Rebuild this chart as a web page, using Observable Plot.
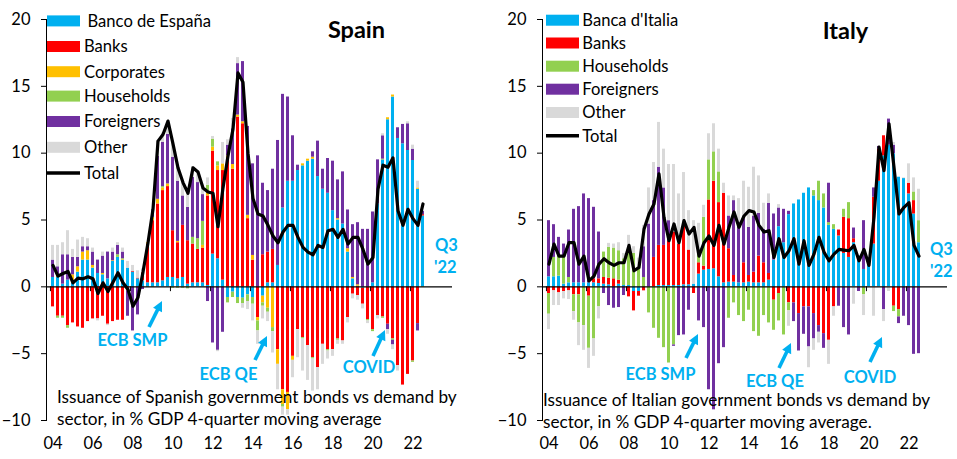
<!DOCTYPE html>
<html><head><meta charset="utf-8">
<script src="https://cdn.jsdelivr.net/npm/d3@7"></script>
<script src="https://cdn.jsdelivr.net/npm/@observablehq/plot@0.6"></script>
<style>
body{margin:0;background:#fff;}
#wrap{position:relative;width:957px;height:459px;overflow:hidden;font-family:Lato,sans-serif;}
.panel{position:absolute;top:0;}
#overlay{position:absolute;left:0;top:0;pointer-events:none;}
</style></head><body>
<div id="wrap">
<div id="spain" class="panel" style="left:0"></div>
<div id="italy" class="panel" style="left:496px"></div>
<svg id="overlay" width="957" height="459"></svg>
</div>
<script>
// ---------- categories & ticks ----------
const quarterKeys = [];
for (let y = 2004; y <= 2023; y++) for (let q = 1; q <= 4; q++) quarterKeys.push(y + "Q" + q);
const axisQuarters = quarterKeys.slice(0, 79);   // axis runs a little past the data
const dataQuarters = quarterKeys.slice(0, 75);   // 2004Q1 .. 2022Q3
const yearTickKeys = ["2004Q1","2006Q1","2008Q1","2010Q1","2012Q1","2014Q1","2016Q1","2018Q1","2020Q1","2022Q1"];
const yearTickLabels = ["04","06","08","10","12","14","16","18","20","22"];
const yTicks = [-10, -5, 0, 5, 10, 15, 20];

// ---------- Spain ----------
const spainSeries = ["Banco de España","Banks","Corporates","Households","Foreigners","Other"];
const spainColors = ["#00B0F0","#FF0000","#FFC000","#92D050","#7030A0","#D9D9D9"];
const spainBdE = [0.7,0.7,0.2,0.5,0.3,1.1,2.0,2.0,1.4,1.0, 0.9,0.6,1.9,2.2,2.0,1.4,1.1,0.6,0.45,0.3,
  0.3,0.3,0.45,0.7,0.7,0.6,0.7,0.2,0.3,0.3, 0.3,0.1,2.45,2.1,0.5,-0.8,-0.4,-0.8,-0.85,-0.6,
  -0.8,0,-0.7,0.3,0.3,1.6,5.9,7.9,7.9,8.7, 9.05,9.4,9.55,8.25,7.3,7.0,5.7,5.0,4.7,2.6,
  0.6,0.05,-0.1,0,0.3,6.2,9.5,12.5,14.2,11.1, 10.7,10.2,9.45,7.3,5.3];
const spainBanks = [-1.5,-2.2,-2.2,-2.9,-2.7,-3.0,-3.1,-2.6,-2.4,-2.4, -2.2,-2.8,-2.6,-2.5,-2.5,-0.3,0.05,0.05,0.6,2.9,
  4.65,5.9,6.75,6.8,3.5,2.7,3.9,3.25,2.9,2.5, 2.6,6.7,7.7,6.6,8.2,9.5,8.8,12.7,12.2,5.1,
  2.0,-2.3,2.4,2.3,2.5,-4.7,-7.7,-7.9,-5.2,-3.2, -3.8,-4.4,-5.3,-6.05,-4.3,-4.7,-4.7,-3.9,-4.05,-2.3,
  -0.55,-0.65,-1.2,-2.45,-3.2,-2.15,-2.25,-2.8,-3.9,-5.9, -7.35,-6.55,-5.55,-2.75,0.1];
const spainCorp = [0,0.2,0,0,0.6,0.4,0.6,0.7,0.2,0, 0.1,0,0.05,0,0.05,0,0,0,0,0.1,
  0.25,0.35,0.2,0.2,0,0.1,0,0,0,0, 0.2,0.2,0.3,0.35,0.5,0.3,0.35,0.15,0.15,0.25,
  0.35,-0.25,-0.5,-1.6,-3.05,-1.1,-1.1,-1.3,-0.3,0, 0.15,0.15,0.15,0,0,0,0,0.1,0,0.25,
  0.1,0.1,0,0,0,0,0.05,0.15,0.15,0, 0,0,0,0.1,0];
const spainHH = [0,-0.15,-0.15,-0.2,0,0,0,0,0,0, 0,0,0,0.2,0.05,0,0,0,0,-0.05,
  -0.05,0,0.1,0,-0.1,-0.1,-0.1,-0.15,0.5,0.8, 1.8,0.6,0.6,0.3,0,-0.4,-0.4,-0.45,-0.4,-0.5,
  -0.5,-0.75,-0.25,-0.3,-0.3,0,-0.2,0,0,0, -0.1,0,-0.1,0,0,-0.1,0,-0.1,0,0,
  0,0,0,-0.1,-0.15,0,-0.1,0,-0.1,0, 0,0,-0.1,0,-0.05];
const spainFor = [1.3,0.6,2.2,1.9,1.3,0.7,0.4,0.3,1.0,1.0, 1.3,2.0,0.65,0.7,0.5,-1.9,-3.3,-2.1,-0.2,0,
  0.5,3.2,3.3,3.7,5.5,4.5,2.2,2.5,4.5,4.2, 2.0,-1.1,-4.2,-4.75,-3.4,0.8,2.65,3.85,4.5,6.65,
  6.85,9.8,5.35,4.6,6.0,9.35,8.5,6.3,3.4,0.4, 0,0,0.4,2.65,1.5,2.6,3.7,2.9,3.9,2.9,
  3.95,4.65,4.3,4.3,5.3,3.3,1.75,-0.4,-0.35,0.8, 1.45,2.0,0.85,-0.55,0.25];
const spainOther = [1.1,1.6,0.9,1.8,0.6,1.3,0.7,0.6,0.3,-0.15, 0.3,-0.1,0.3,0.2,0.3,0.5,0.45,0.55,0.3,0,
  0.1,1.2,0.7,1.0,1.2,1.1,1.1,1.2,0.8,0.9, 0.6,0.55,0.2,-0.1,1.6,0.4,0.8,0.45,-0.35,-0.6,
  -1.25,-1.0,-0.95,-0.7,-1.6,-1.9,-0.6,-0.4,-1.3,-2.1, -2.4,-2.6,-2.4,-1.65,-1.5,-0.6,-0.5,-0.3,-0.25,-0.4,
  -0.35,-0.35,-0.35,-0.2,0,-0.25,0.15,-0.35,-0.35,-0.4, 0,0.15,0.3,0.5,0];
const spainTotal = [1.6,0.8,1.0,1.15,0.3,0.65,0.6,0.75,0.6,-0.5, 0.3,-0.35,0.35,1.05,0.3,-0.2,-1.45,-0.8,1.1,3.3,
  5.8,10.9,11.4,12.4,10.7,8.9,7.8,7.0,8.9,8.6, 7.4,7.1,7.0,4.5,7.4,9.8,11.8,16.0,15.3,10.0,
  6.6,5.45,5.3,4.6,3.8,3.3,4.1,4.6,4.6,3.7, 2.95,2.6,2.4,3.1,2.95,4.2,4.3,3.7,4.3,3.2,
  3.7,3.7,2.8,1.7,2.2,7.3,9.1,8.95,9.65,5.7, 4.6,5.8,5.1,4.6,6.2];

// ---------- Italy ----------
const italySeries = ["Banca d'Italia","Banks","Households","Foreigners","Other"];
const italyColors = ["#00B0F0","#FF0000","#92D050","#7030A0","#D9D9D9"];
const italyBdI = [0.75,0.75,0.8,0.2,0.3,0.3,0.3,0.3,0.3,0.3, 0.25,0.2,0.15,0,0.2,0.1,0.1,-0.35,-0.35,0,
  0,0,0.1,0.1,0.1,0.1,0.1,0.15,0.15,0.2, 0.95,1.25,1.3,1.35,0.75,0.3,0.35,0.35,0.3,0.3,
  0.35,0.3,0.3,0.3,0.5,2.0,4.5,3.3,5.4,6.2, 6.5,7.0,7.4,6.8,6.45,5.9,4.6,4.3,3.8,2.5,
  2.2,3.3,2.3,1.3,1.6,3.2,7.9,9.8,10.6,9.95, 8.2,8.1,6.95,5.45,3.3];
const italyBanks = [-0.5,-0.3,-0.45,-0.35,-0.3,-0.6,-0.6,0,-0.7,0.3, 0.35,0.5,0.5,0.6,0.3,0,-0.75,-1.45,-0.35,-0.3,
  0,2.2,3.0,3.0,3.3,4.0,3.1,4.45,2.6,-0.5, 0.85,0.3,5.2,6.55,5.55,6.7,2.5,0.5,0,1.5,
  0.5,0.8,2.0,1.5,0.5,-1.0,-0.5,0,-1.2,-1.2, -2.0,-1.5,-1.5,-2.0,-2.9,-3.5,-4.0,-1.5,0.45,2.7,
  2.9,0.3,0,0,0,3.5,2.4,1.5,0,-1.45, -1.7,0,0.8,1.0,0];
const italyHH = [-1.55,1.45,1.5,2.1,0.4,-1.25,-2.1,-2.9,-3.9,-3.9, -1.5,1.9,2.3,2.3,2.2,2.0,2.6,2.5,1.4,0.7,
  -1.95,-3.1,-3.85,-4.55,-5.7,-4.35,0,0,0,0, 0.8,3.65,3.0,2.2,2.3,0,-2.35,-1.2,-2.15,-2.6,
  -1.75,-3.35,-3.7,-2.15,-2.7,-2.25,-2.05,-3.6,-0.6,0, 0,0,0,0.4,1.45,1.05,0.2,0.35,0,0.6,
  1.2,0,0,-0.6,0,0,0,0,0,-0.4, -0.55,0,0,0.65,1.65];
const italyFor = [4.2,2.45,1.4,0.9,3.55,5.5,5.7,6.65,6.3,5.35, 3.5,-0.5,-1.4,-1.6,-1.55,-0.65,0,0,0,2.3,
  4.7,4.25,5.85,4.3,1.55,-0.1,-3.65,-3.6,-1.75,0, -2.55,-3.05,-7.7,-9.2,-5.75,-4.55,2.45,5.6,4.5,3.3,
  3.6,4.2,3.2,2.5,5.25,3.45,1.4,2.5,0.25,-1.4, -2.8,-2.05,-3.0,-1.9,-0.5,-1.1,2.95,0,-1.45,-3.05,
  -3.6,0.8,-0.35,3.65,0,0.7,0.2,-1.7,1.95,0.65, -0.5,-2.2,-2.9,-5.05,-5.0];
const italyOther = [-1.15,-1.1,-0.95,-0.55,-0.65,-0.65,-1.7,-1.85,-1.5,-1.3, -0.9,0,0.3,0.3,0.6,0.4,1.15,0.5,0.75,1.6,
  2.7,2.85,3.35,2.9,4.2,5.05,3.75,3.95,2.95,4.75, 2.15,0.9,1.95,2.1,1.7,0.75,1.5,0.35,1.8,2.8,
  3.0,3.65,2.8,1.95,0.7,0,0.25,0,-1.15,0, 0,0,-1.55,-0.85,-0.8,0,-1.8,-0.7,0,0,
  0,-1.3,0,-1.55,0,-2.2,-0.05,-0.9,-0.35,0.2, 0,0.05,1.45,1.05,2.35];
const italyTotal = [1.7,3.2,2.3,2.3,3.3,3.3,1.7,2.3,0.45,0.8, 1.7,2.1,1.8,1.6,1.8,1.8,3.1,1.2,1.45,4.3,
  5.45,6.2,8.45,5.2,3.45,4.7,3.3,4.95,3.95,4.45, 2.3,3.3,3.8,3.1,4.6,3.2,4.45,5.6,4.45,5.3,
  5.7,5.6,4.6,4.1,4.2,2.2,3.6,2.2,2.7,3.6, 1.7,3.45,1.6,2.45,3.7,2.6,1.95,2.45,2.8,2.75,
  2.7,3.1,1.95,2.8,1.6,5.2,10.45,8.7,12.2,8.95, 5.45,5.95,6.3,3.1,2.3];

// ---------- chart builder ----------
function panel(series, colors, arrays, total, width, marginRight) {
  const rows = [];
  series.forEach((s, k) => arrays[k].forEach((v, i) => rows.push({q: dataQuarters[i], s, v})));
  const line = total.map((t, i) => ({q: dataQuarters[i], t}));
  return Plot.plot({
    width, height: 459,
    marginTop: 19, marginBottom: 39, marginLeft: 46, marginRight,
    style: {fontFamily: "Lato, sans-serif", fontSize: "16px", color: "#000", background: "transparent", overflow: "visible"},
    x: {type: "band", domain: axisQuarters, range: [44.7, 449.3], padding: 0.42, axis: null, label: null},
    y: {domain: [-10, 20], axis: null, label: null},
    color: {domain: series, range: colors},
    marks: [
      Plot.barY(rows, {x: "q", y: "v", fill: "s"}),
      Plot.ruleY([0], {stroke: "#000", strokeWidth: 1.3}),
      Plot.ruleX(yearTickKeys, {x: d => d, y1: 0, y2: -0.36, dx: -2.56, stroke: "#000", strokeWidth: 1}),
      Plot.lineY(line, {x: "q", y: "t", stroke: "#000", strokeWidth: 3.2, strokeLinejoin: "round"}),
      Plot.axisY({ticks: yTicks, tickSize: 5, tickPadding: 11, fontSize: 16.5, stroke: "#000", label: null}),
      Plot.axisX({ticks: yearTickKeys, tickFormat: d => yearTickLabels[yearTickKeys.indexOf(d)], tickSize: 0, tickPadding: 17, fontSize: 16.5, label: null}),
      Plot.frame({anchor: "left", stroke: "#000"})
    ]
  });
}

document.getElementById("spain").append(
  panel(spainSeries, spainColors, [spainBdE, spainBanks, spainCorp, spainHH, spainFor, spainOther], spainTotal, 478, 26));
document.getElementById("italy").append(
  panel(italySeries, italyColors, [italyBdI, italyBanks, italyHH, italyFor, italyOther], italyTotal, 461, 10));

// ---------- overlay: titles, legends, annotations, captions ----------
const ov = d3.select("#overlay");
const blue = "#00B0F0";
function txt(x, y, s, opts = {}) {
  ov.append("text").attr("x", x).attr("y", y).text(s)
    .attr("font-family", "Lato, sans-serif")
    .attr("font-size", opts.size || 16.5)
    .attr("font-weight", opts.bold ? 700 : 400)
    .attr("fill", opts.color || "#000")
    .attr("text-anchor", opts.anchor || "start");
}
function legend(x0, textX, baselines, names, colors, firstShift) {
  names.forEach((n, i) => {
    const b = baselines[i];
    if (i < colors.length) {
      ov.append("rect").attr("x", x0).attr("y", b - 11.3).attr("width", 33).attr("height", 11).attr("fill", colors[i]);
    } else {
      ov.append("line").attr("x1", x0).attr("x2", x0 + 33).attr("y1", b - 5.8).attr("y2", b - 5.8)
        .attr("stroke", "#000").attr("stroke-width", 3.4);
    }
    txt(textX + (i === 0 ? firstShift : 0), b, n, {size: 16.6});
  });
}
legend(47, 84, [26.7, 52.3, 77.5, 101.9, 127.3, 153.1, 178.8], spainSeries.concat(["Total"]), spainColors, 3.5);
legend(546, 582.3, [26, 48.8, 72, 95, 118.3, 141.6], italySeries.concat(["Total"]), italyColors, 0);

txt(356.5, 38.3, "Spain", {bold: true, size: 23.5, anchor: "middle"});
txt(845.5, 39, "Italy", {bold: true, size: 23.5, anchor: "middle"});

function arrow(x1, y1, x2, y2) {
  const dx = x2 - x1, dy = y2 - y1, L = Math.hypot(dx, dy), ux = dx / L, uy = dy / L;
  const hl = 10, hw = 5;
  ov.append("line").attr("x1", x1).attr("y1", y1).attr("x2", x2 - ux * hl * 0.8).attr("y2", y2 - uy * hl * 0.8)
    .attr("stroke", blue).attr("stroke-width", 3.6);
  const bx = x2 - ux * hl, by = y2 - uy * hl;
  ov.append("polygon").attr("points",
    `${x2},${y2} ${bx - uy * hw},${by + ux * hw} ${bx + uy * hw},${by - ux * hw}`).attr("fill", blue);
}
// Spain annotations
txt(132.5, 346, "ECB SMP", {bold: true, color: blue, anchor: "middle"});
arrow(149, 327, 162, 301);
txt(228.5, 379.5, "ECB QE", {bold: true, color: blue, anchor: "middle"});
arrow(255, 360, 267, 336);
txt(369, 372.7, "COVID", {bold: true, color: blue, anchor: "middle"});
arrow(373, 356, 385, 330);
txt(435, 250.5, "Q3", {bold: true, color: blue});
txt(434, 273.3, "'22", {bold: true, color: blue});
// Italy annotations
txt(660.5, 380, "ECB SMP", {bold: true, color: blue, anchor: "middle"});
arrow(686, 358, 698, 334);
txt(775, 386.7, "ECB QE", {bold: true, color: blue, anchor: "middle"});
arrow(779, 368, 791, 343);
txt(870, 383.3, "COVID", {bold: true, color: blue, anchor: "middle"});
arrow(870, 362, 882, 337);
txt(930, 255, "Q3", {bold: true, color: blue});
txt(930, 276.7, "'22", {bold: true, color: blue});

// captions
txt(57, 403, "Issuance of Spanish government bonds vs demand by", {size: 17.2});
txt(57, 425, "sector, in % GDP 4-quarter moving average", {size: 17.2});
txt(543, 406, "Issuance of Italian government bonds vs demand by", {size: 17.2});
txt(543, 428, "sector, in % GDP 4-quarter moving average.", {size: 17.2});
</script>
</body></html>
